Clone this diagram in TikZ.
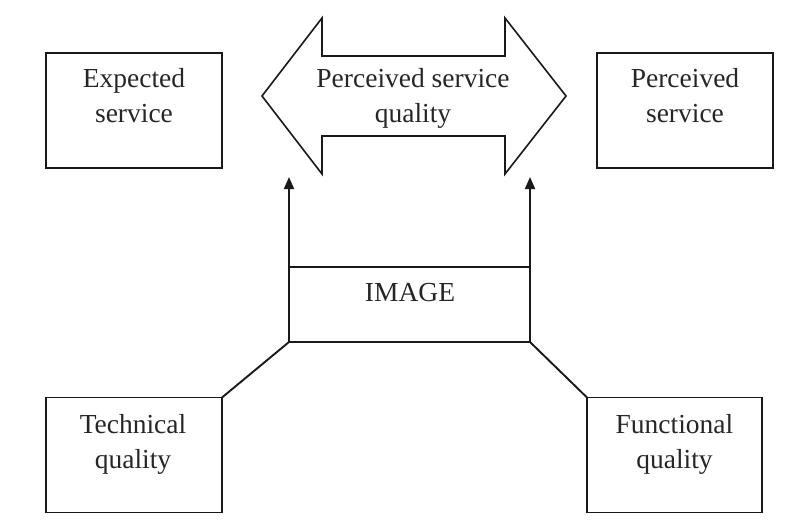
\documentclass[tikz,border=0pt]{standalone}
\usepackage{fontspec}
\setmainfont{Liberation Serif}
\usetikzlibrary{arrows.meta}
\begin{document}
\begin{tikzpicture}[x=1pt,y=-1pt,
  ink/.style={draw=black!90, line width=1.9pt},
  frame/.style={ink, inner sep=0pt, outer sep=0pt, minimum width=176pt, minimum height=115pt},
  caption/.style={font=\fontsize{27.5}{35}\selectfont, text=black!85, anchor=base, inner sep=0pt},
  link/.style={ink, line cap=round},
  push/.style={ink, -{Triangle[width=10pt,length=12pt]}}]

\useasboundingbox[fill=white] (0,0) rectangle (811,528);

% outer boxes
\node[frame] (exp)  at (134,110.5) {};
\node[frame] (per)  at (685,110.5) {};
\node[frame] (tech) at (134,455) {};
\node[frame, minimum width=175pt] (func) at (674.5,455) {};

% central image box
\node[ink, inner sep=0pt, outer sep=0pt, minimum width=241pt, minimum height=75pt] (img) at (409.5,304.5) {};

% double-headed arrow between expectation and perception
\draw[ink, line width=1.6pt, line join=miter]
  (262,96) -- (322,18) -- (322,56) -- (505,56) -- (505,18) -- (566,96)
  -- (505,174) -- (505,136) -- (322,136) -- (322,174) -- cycle;

% captions
\node[caption] (expT)  at (134,87)   {\begin{tabular}[t]{@{}c@{}}Expected\\service\end{tabular}};
\node[caption] (perT)  at (685,87)   {\begin{tabular}[t]{@{}c@{}}Perceived\\service\end{tabular}};
\node[caption] (psqT)  at (413,87)   {\begin{tabular}[t]{@{}c@{}}Perceived service\\quality\end{tabular}};
\node[caption] (techT) at (133,433)  {\begin{tabular}[t]{@{}c@{}}Technical\\quality\end{tabular}};
\node[caption] (funcT) at (674.5,433) {\begin{tabular}[t]{@{}c@{}}Functional\\quality\end{tabular}};
\node[caption] (imgT)  at (410,301.5) {IMAGE};

% arrows from the image box up to the double arrow
\coordinate (upL) at (289,177);
\coordinate (upR) at (530,177);
\draw[push] (img.north west) -- (upL);
\draw[push] (img.north east) -- (upR);

% quality dimensions feeding the image
\draw[link] (img.south west) -- (tech.north east);
\draw[link] (img.south east) -- (func.north west);
\end{tikzpicture}
\end{document}
